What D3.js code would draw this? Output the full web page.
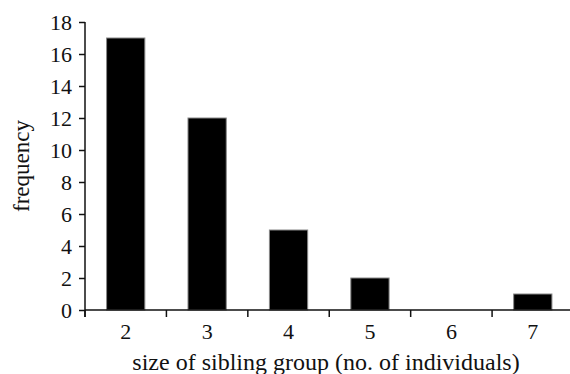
<!DOCTYPE html>
<meta charset="utf-8">
<style>
body{margin:0;background:white}
text{font-family:"Liberation Serif","Times New Roman",serif;fill:#111}
.axis path,.axis line{stroke:#111;stroke-width:1.5px}
</style>
<svg width="570" height="374"></svg>
<script src="https://d3js.org/d3.v7.min.js"></script>
<script>
// sibling group sizes and how often each was seen
var sizes = ["2", "3", "4", "5", "6", "7"];
var counts = [17, 12, 5, 2, 0, 1];
var yTicks = [0, 2, 4, 6, 8, 10, 12, 14, 16, 18];

var svg = d3.select("svg");
var mLeft = 85, mRight = 573.5, mTop = 22, mBottom = 310;

var x = d3.scaleBand().domain(sizes).range([mLeft, mRight]).paddingInner(0.53).paddingOuter(0.265);
var xTicks = d3.scaleBand().domain(sizes).range([mLeft, mRight]);
var y = d3.scaleLinear().domain([0, 18]).range([mBottom, mTop]);

var data = sizes.map(function(s, i) { return {size: s, n: counts[i]}; });

svg.append("g")
  .selectAll("rect")
  .data(data)
  .enter().append("rect")
    .attr("x", function(d) { return x(d.size); })
    .attr("width", x.bandwidth())
    .attr("y", function(d) { return y(d.n); })
    .attr("height", function(d) { return mBottom - y(d.n); })
    .attr("fill", "#000")
    .attr("stroke", "#888")
    .attr("stroke-width", 1);

// y axis
var ya = svg.append("g")
  .attr("class", "axis")
  .attr("transform", "translate(" + mLeft + ",0)")
  .call(d3.axisLeft(y).tickValues(yTicks).tickSize(6).tickSizeOuter(0).tickPadding(7));
ya.select(".domain").attr("d", "M0," + mTop + "V" + (mBottom + 7));
ya.selectAll("text").style("font-size", "22px").attr("dy", "0.34em");

// x axis: ticks sit between the bars
var xa = svg.append("g")
  .attr("class", "axis")
  .attr("transform", "translate(0," + mBottom + ")");
xa.append("line").attr("x1", mLeft).attr("x2", 570).attr("y1", 0).attr("y2", 0);
xa.selectAll(".tk")
  .data(sizes)
  .enter().append("line")
    .attr("x1", function(d) { return xTicks(d); })
    .attr("x2", function(d) { return xTicks(d); })
    .attr("y1", 0).attr("y2", 7);
xa.selectAll(".lb")
  .data(sizes)
  .enter().append("text")
    .attr("x", function(d) { return xTicks(d) + xTicks.bandwidth() / 2; })
    .attr("y", 29)
    .attr("text-anchor", "middle")
    .style("font-size", "22px")
    .text(function(d) { return d; });

svg.append("text")
  .attr("x", 326)
  .attr("y", 370)
  .attr("text-anchor", "middle")
  .style("font-size", "24px")
  .text("size of sibling group (no. of individuals)");

svg.append("text")
  .attr("transform", "translate(29,166) rotate(-90)")
  .attr("text-anchor", "middle")
  .style("font-size", "23px")
  .text("frequency");
</script>
